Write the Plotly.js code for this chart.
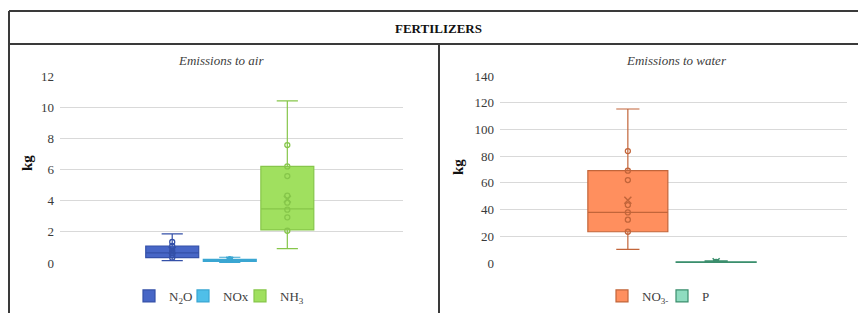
<!DOCTYPE html>
<html>
<head>
<meta charset="utf-8">
<script src="https://cdn.plot.ly/plotly-3.0.1.min.js"></script>
<style>html,body{margin:0;padding:0;background:#fff;}#chart{width:858px;height:313px;}</style>
</head>
<body>
<div id="chart"></div>
<script>
// ---------- DATA ----------
const mainTitle = 'FERTILIZERS';
const airTitle = 'Emissions to air';
const waterTitle = 'Emissions to water';
const unitLabel = 'kg';

const airCategories = ['N2O', 'NOx', 'NH3'];
const airNames = ['N<sub>2</sub>O', 'NOx', 'NH<sub>3</sub>'];
const airQ1 = [0.34, 0.10, 2.12];
const airMedian = [0.65, 0.17, 3.47];
const airQ3 = [1.09, 0.24, 6.20];
const airLower = [0.15, 0.03, 0.92];
const airUpper = [1.87, 0.37, 10.40];
const airMean = [0.80, 0.17, 4.10];
const n2oPoints = [0.34, 0.50, 0.65, 0.80, 1.09, 1.35];
const noxPoints = [0.10, 0.17, 0.24];
const nh3Points = [2.07, 2.93, 3.42, 3.87, 4.32, 5.58, 6.20, 7.57];

const waterCategories = ['NO3-', 'P'];
const waterNames = ['NO<sub>3-</sub>', 'P'];
const waterQ1 = [23.4, 0.3];
const waterMedian = [37.9, 0.6];
const waterQ3 = [69.1, 0.9];
const waterLower = [10.2, 0.0];
const waterUpper = [115.3, 1.6];
const waterMean = [47.0, 1.0];
const no3Points = [23.4, 32.4, 37.9, 43.4, 62.1, 69.1, 83.8];
const pPoints = [0.3, 0.6, 0.9];

const airTicks = [0, 2, 4, 6, 8, 10, 12];
const waterTicks = [0, 20, 40, 60, 80, 100, 120, 140];

// ---------- STYLES ----------
const airFill = ['#4766c6', '#4fbfe9', '#a0e05f'];
const airLine = ['#3450a8', '#3aa6d2', '#86c64a'];
const waterFill = ['#ff8f5e', '#8fdcc0'];
const waterLine = ['#c2653a', '#3b8e6d'];
const airPointsAll = [n2oPoints, noxPoints, nh3Points];
const waterPointsAll = [no3Points, pPoints];
// left edge (px) of each legend swatch, air then water
const airLegendX = [146, 200, 257];
const waterLegendX = [619, 679];

const W = 858, H = 313;
const px = v => v / W;
const py = v => 1 - v / H;
const serif = '"Liberation Serif", "Times New Roman", serif';
const legendFont = {family: serif, size: 13, color: '#404040'};

const traces = [];
const layoutLegends = {};
let legendCount = 0;
function addSeries(cats, names, q1, med, q3, lo, hi, mean, pts, fill, line, xa, ya, legX, boxW, whisk) {
  cats.forEach((c, i) => {
    legendCount += 1;
    const lid = legendCount === 1 ? 'legend' : 'legend' + legendCount;
    layoutLegends[lid] = {
      orientation: 'h', x: px(legX[i] - 17), xanchor: 'left', y: py(296), yanchor: 'middle',
      font: legendFont, bgcolor: 'rgba(0,0,0,0)', itemclick: false, itemdoubleclick: false
    };
    traces.push({
      type: 'box', name: names[i], x: [c],
      q1: [q1[i]], median: [med[i]], q3: [q3[i]],
      lowerfence: [lo[i]], upperfence: [hi[i]],
      boxpoints: false, width: boxW, whiskerwidth: whisk,
      fillcolor: fill[i], line: {color: line[i], width: 1.2},
      xaxis: xa, yaxis: ya, legend: lid, hoverinfo: 'skip'
    });
    traces.push({
      type: 'scatter', mode: 'markers', x: pts[i].map(() => c), y: pts[i],
      marker: {symbol: 'circle-open', size: 5, line: {color: line[i], width: 1.3}, color: line[i]},
      xaxis: xa, yaxis: ya, showlegend: false, hoverinfo: 'skip'
    });
    traces.push({
      type: 'scatter', mode: 'markers', x: [c], y: [mean[i]],
      marker: {symbol: 'x-thin-open', size: 7, line: {color: line[i], width: 1.5}, color: line[i]},
      xaxis: xa, yaxis: ya, showlegend: false, hoverinfo: 'skip'
    });
  });
}
addSeries(airCategories, airNames, airQ1, airMedian, airQ3, airLower, airUpper, airMean,
  airPointsAll, airFill, airLine, 'x', 'y', airLegendX, 0.92, 0.4);
addSeries(waterCategories, waterNames, waterQ1, waterMedian, waterQ3, waterLower, waterUpper, waterMean,
  waterPointsAll, waterFill, waterLine, 'x2', 'y2', waterLegendX, 0.906, 0.29);

const tickFont = {family: serif, size: 13, color: '#3a3a3a'};
const yBase = {
  showgrid: true, gridcolor: '#d9d9d9', gridwidth: 1, zeroline: false,
  showline: false, ticks: '', tickfont: tickFont, fixedrange: true,
  tickmode: 'array', ticklabelstandoff: 5
};
const xBase = {type: 'category', showticklabels: false, showgrid: false, zeroline: false,
  showline: false, ticks: '', fixedrange: true};

const frame = {color: '#3a3a3a', width: 2};
const layout = Object.assign({
  width: W, height: H,
  margin: {l: 0, r: 0, t: 0, b: 0},
  paper_bgcolor: '#ffffff', plot_bgcolor: 'rgba(0,0,0,0)',
  showlegend: true, boxmode: 'overlay',
  font: {family: serif, color: '#404040'},
  xaxis: Object.assign({}, xBase, {domain: [px(60), px(403)], range: [-1.95, 4.01], categoryarray: airCategories, categoryorder: 'array', anchor: 'y'}),
  yaxis: Object.assign({}, yBase, {domain: [py(263), py(76)], range: [0, 12], tickvals: airTicks, anchor: 'x'}),
  xaxis2: Object.assign({}, xBase, {domain: [px(500), px(847)], range: [-1.448, 2.482], categoryarray: waterCategories, categoryorder: 'array', anchor: 'y2'}),
  yaxis2: Object.assign({}, yBase, {domain: [py(263), py(76)], range: [0, 140], tickvals: waterTicks, anchor: 'x2'}),
  shapes: [
    {type: 'line', xref: 'paper', yref: 'paper', x0: px(9), x1: px(858), y0: py(11), y1: py(11), line: frame},
    {type: 'line', xref: 'paper', yref: 'paper', x0: px(9), x1: px(858), y0: py(44), y1: py(44), line: frame},
    {type: 'line', xref: 'paper', yref: 'paper', x0: px(9), x1: px(9), y0: py(11), y1: py(313), line: frame},
    {type: 'line', xref: 'paper', yref: 'paper', x0: px(439), x1: px(439), y0: py(44), y1: py(313), line: frame}
  ],
  annotations: [
    {text: '<b>' + mainTitle + '</b>', xref: 'paper', yref: 'paper', x: px(438), y: py(29), showarrow: false,
      xanchor: 'center', yanchor: 'middle', font: {family: serif, size: 13, color: '#111'}},
    {text: '<i>' + airTitle + '</i>', xref: 'paper', yref: 'paper', x: px(221), y: py(60), showarrow: false,
      xanchor: 'center', yanchor: 'middle', font: {family: serif, size: 13, color: '#404040'}},
    {text: '<i>' + waterTitle + '</i>', xref: 'paper', yref: 'paper', x: px(676), y: py(60), showarrow: false,
      xanchor: 'center', yanchor: 'middle', font: {family: serif, size: 13, color: '#404040'}},
    {text: '<b>' + unitLabel + '</b>', xref: 'paper', yref: 'paper', x: px(27), y: py(163), showarrow: false,
      textangle: -90, xanchor: 'center', yanchor: 'middle', font: {family: serif, size: 15, color: '#111'}},
    {text: '<b>' + unitLabel + '</b>', xref: 'paper', yref: 'paper', x: px(458), y: py(167), showarrow: false,
      textangle: -90, xanchor: 'center', yanchor: 'middle', font: {family: serif, size: 15, color: '#111'}}
  ]
}, layoutLegends);

Plotly.newPlot('chart', traces, layout, {staticPlot: true, displayModeBar: false});
</script>
</body>
</html>
